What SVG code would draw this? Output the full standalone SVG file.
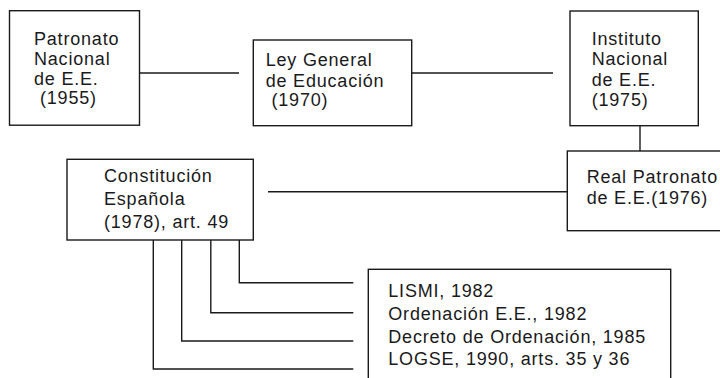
<svg xmlns="http://www.w3.org/2000/svg" width="720" height="378" viewBox="0 0 720 378">
<style>
.box{fill:#fff;stroke:#1a1a1a;stroke-width:1.4}
.ln{fill:none;stroke:#1a1a1a;stroke-width:1.4}
text{font-family:"Liberation Sans",Arial,sans-serif;font-size:18px;letter-spacing:0.8px;fill:#1a1a1a}
</style>
<rect width="720" height="378" fill="#fff"/>
<g id="connectors">
<line class="ln" x1="139" y1="73" x2="239" y2="73"/>
<line class="ln" x1="412" y1="73" x2="553" y2="73"/>
<line class="ln" x1="640" y1="126" x2="640" y2="151"/>
<line class="ln" x1="268" y1="191.7" x2="567" y2="191.7"/>
<polyline class="ln" points="239.3,240 239.3,282.7 353.3,282.7"/>
<polyline class="ln" points="210.8,240 210.8,312.7 353.3,312.7"/>
<polyline class="ln" points="181.7,240 181.7,341 353.3,341"/>
<polyline class="ln" points="153.3,240 153.3,369 353.3,369"/>
</g>
<g id="patronato">
<rect class="box" x="9.5" y="10.7" width="130" height="114.5"/>
<text x="34" y="45">Patronato</text>
<text x="34" y="65">Nacional</text>
<text x="34" y="85">de E.E.</text>
<text x="40" y="104">(1955)</text>
</g>
<g id="ley">
<rect class="box" x="253.3" y="40" width="158.4" height="85.7"/>
<text x="265.7" y="66">Ley General</text>
<text x="265.7" y="86.5">de Educación</text>
<text x="271.5" y="106">(1970)</text>
</g>
<g id="instituto">
<rect class="box" x="570" y="11" width="128.3" height="114.7"/>
<text x="591.7" y="45">Instituto</text>
<text x="591.7" y="65">Nacional</text>
<text x="591.7" y="86">de E.E.</text>
<text x="591.7" y="105.5">(1975)</text>
</g>
<g id="real">
<rect class="box" x="567.3" y="151" width="170" height="79.7"/>
<text x="586.7" y="183.3">Real Patronato</text>
<text x="586.7" y="204">de E.E.(1976)</text>
</g>
<g id="constitucion">
<rect class="box" x="67" y="159.3" width="186.3" height="80.7"/>
<text x="104" y="181.7">Constitución</text>
<text x="104" y="205">Española</text>
<text x="104" y="227.5">(1978), art. 49</text>
</g>
<g id="leyes">
<rect class="box" x="368.3" y="269.3" width="302.4" height="130"/>
<text x="388.3" y="297.3">LISMI, 1982</text>
<text x="388.3" y="320">Ordenación E.E., 1982</text>
<text x="388.3" y="343">Decreto de Ordenación, 1985</text>
<text x="388.3" y="365.3">LOGSE, 1990, arts. 35 y 36</text>
</g>
</svg>
